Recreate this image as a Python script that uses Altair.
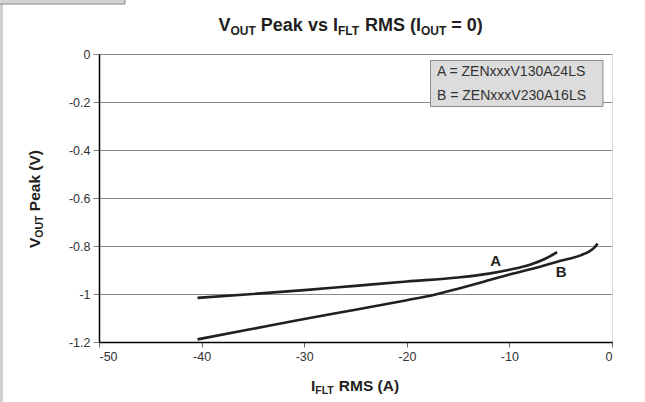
import altair as alt
import pandas as pd

# ---------------- data ----------------
a_x = [-40.4, -35, -30, -25, -20, -15, -12, -10, -8, -6.5, -5.35]
a_y = [-1.016, -1.0, -0.984, -0.966, -0.948, -0.931, -0.915, -0.899, -0.878, -0.853, -0.826]
b_x = [-40.4, -35, -30, -25, -20, -17.5, -15, -12.5, -10, -7, -5.1, -3, -2.2, -1.8, -1.4]
b_y = [-1.189, -1.145, -1.104, -1.066, -1.026, -1.005, -0.978, -0.949, -0.919, -0.886, -0.863, -0.838, -0.822, -0.81, -0.79]
curve_names = ["A", "B"]
label_x = [-11.35, -4.95]
label_y = [-0.863, -0.91]
legend_lines = ["A = ZENxxxV130A24LS", "B = ZENxxxV230A16LS"]
x_ticks = [-50, -40, -30, -20, -10, 0]
y_ticks = [-1.2, -1.0, -0.8, -0.6, -0.4, -0.2, 0]

# ---------------- layout ----------------
W, H = 513, 288
PL, PT = 99, 54
FONT = "Liberation Sans"
INK = "#231f20"

rows = [{"x": x, "y": y, "c": "A"} for x, y in zip(a_x, a_y)] + \
       [{"x": x, "y": y, "c": "B"} for x, y in zip(b_x, b_y)]
df = pd.DataFrame(rows)
lab = pd.DataFrame({"x": label_x, "y": label_y, "t": curve_names})

lab_expr = "datum.value < 0 ? '-' + format(-datum.value, '~g') : format(datum.value, '~g')"
xs = alt.Scale(domain=[-50, 0], nice=False, zero=False)
ys = alt.Scale(domain=[-1.2, 0], nice=False, zero=False)

base = alt.Chart(df)
lines = base.mark_line(color=INK, strokeWidth=2.6, interpolate="monotone").encode(
    x=alt.X("x:Q", scale=xs, axis=alt.Axis(values=x_ticks, title=None, grid=False, labelExpr=lab_expr,
                                          domainColor="black", domainWidth=1.5, tickColor="#666",
                                          tickSize=5, labelPadding=3, labelFont=FONT, labelFontSize=12.5,
                                          labelColor="#333")),
    y=alt.Y("y:Q", scale=ys, axis=alt.Axis(values=y_ticks, title=None, grid=True, gridColor="#8a8a8a",
                                          gridWidth=1, labelExpr=lab_expr, domainColor="black",
                                          domainWidth=1.5, tickColor="#888", tickSize=6, labelPadding=3,
                                          labelFont=FONT, labelFontSize=12.5, labelColor="#333")),
    detail="c:N",
    order="x:Q",
)
labels = alt.Chart(lab).mark_text(font=FONT, fontSize=15, fontWeight="bold", color=INK).encode(
    x=alt.X("x:Q", scale=xs), y=alt.Y("y:Q", scale=ys), text="t:N")

dummy = alt.Data(values=[{}])

# legend box
leg_box = alt.Chart(dummy).mark_rect(fill="#dcdcdc", stroke="#8c8c8c", strokeWidth=1).encode(
    x=alt.value(331.5), x2=alt.value(504), y=alt.value(6.5), y2=alt.value(52.5))
leg_txt = [
    alt.Chart(dummy).mark_text(font=FONT, fontSize=14, color="#333", align="left", baseline="middle").encode(
        x=alt.value(338), y=alt.value(yy), text=alt.value(t))
    for t, yy in zip(legend_lines, [18, 41.5])
]

# Arial/Liberation Sans Bold advance widths (per 1000 em)
BW = {" ": 278, "(": 333, ")": 333, "=": 584, "0": 556, "A": 722, "F": 611, "I": 278, "L": 611,
      "M": 833, "O": 778, "P": 667, "R": 722, "S": 667, "T": 611, "U": 722, "V": 667, "a": 556,
      "e": 556, "k": 556, "s": 556, "v": 556}


def tw(s, fs):
    return sum(BW.get(ch, 556) for ch in s) * fs / 1000.0


def rich(pieces, start, base_line, main, sub, drop, rotated=False):
    """pieces: list of (text, is_sub). Returns text layers laid out along the reading direction."""
    out = []
    pos = start
    sign = -1 if rotated else 1
    for txt, is_sub in pieces:
        fs = sub if is_sub else main
        lead = len(txt) - len(txt.lstrip(" "))
        trail = len(txt) - len(txt.rstrip(" "))
        core = txt.strip(" ")
        pos += sign * lead * tw(" ", fs)
        if rotated:
            enc = dict(x=alt.value(base_line + (drop if is_sub else 0)), y=alt.value(pos))
            mk = dict(angle=270)
        else:
            enc = dict(x=alt.value(pos), y=alt.value(base_line + (drop if is_sub else 0)))
            mk = {}
        out.append(alt.Chart(dummy).mark_text(font=FONT, fontSize=fs, fontWeight="bold", color=INK,
                                              align="left", baseline="alphabetic", **mk).encode(
            text=alt.value(core), **enc))
        pos += sign * (tw(core, fs) + trail * tw(" ", fs))
    return out


title_pieces = [("V", False), ("OUT", True), (" Peak vs I", False), ("FLT", True),
                (" RMS (I", False), ("OUT", True), (" = 0)", False)]
title_layers = rich(title_pieces, 218.5 - PL, 31 - PT, 18, 12, 3.5)

xt_pieces = [("I", False), ("FLT", True), (" RMS (A)", False)]
xt_layers = rich(xt_pieces, 311 - PL, 391 - PT, 15.5, 10.5, 3)

yt_pieces = [("V", False), ("OUT", True), (" Peak (V)", False)]
yt_layers = rich(yt_pieces, 248 - PT, 40 - PL, 15.5, 10.5, 3, rotated=True)

# page decorations (scan edge)
edge = alt.Chart(dummy).mark_rect(fill="#cfcfcf").encode(
    x=alt.value(-PL), x2=alt.value(-PL + 3), y=alt.value(-PT), y2=alt.value(402 - PT))
tab = alt.Chart(dummy).mark_rect(fill="#d4d4d4", stroke="#8a8a8a", strokeWidth=1).encode(
    x=alt.value(-PL - 2), x2=alt.value(125 - PL), y=alt.value(-PT - 2), y2=alt.value(4 - PT))

chart = alt.layer(
    edge, tab, lines, labels, leg_box, *leg_txt, *title_layers, *xt_layers, *yt_layers
).properties(
    width=W, height=H,
    autosize=alt.AutoSizeParams(type="none"),
    padding={"left": PL, "top": PT, "right": 645 - PL - W, "bottom": 402 - PT - H},
).configure_view(stroke="black", strokeWidth=1).configure(background="white")

chart.save("out.html", embed_options={"renderer": "svg", "actions": False})
